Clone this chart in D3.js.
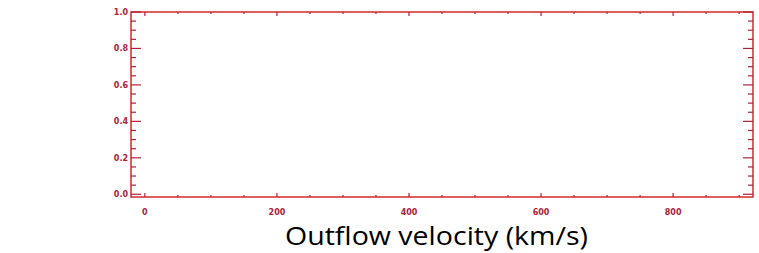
<!DOCTYPE html>
<html>
<head>
<meta charset="utf-8">
<script src="https://cdn.jsdelivr.net/npm/d3@7"></script>
<style>
  body { margin: 0; background: #fff; }
  svg { display: block; }
</style>
</head>
<body>
<svg id="chart" width="759" height="253"></svg>
<script>
// axis setup (empty plot)
const xDomain = [-21, 921]
const yDomain = [-0.015, 1.0]
const xMajorTicks = [0, 200, 400, 600, 800]
const xMinorTicks = [0, 50, 100, 150, 200, 250, 300, 350, 400, 450, 500, 550, 600, 650, 700, 750, 800, 850, 900]
const yMajorTicks = [0.0, 0.2, 0.4, 0.6, 0.8, 1.0]
const yMinorTicks = [0, 0.05, 0.1, 0.15, 0.2, 0.25, 0.3, 0.35, 0.4, 0.45, 0.5, 0.55, 0.6, 0.65, 0.7, 0.75, 0.8, 0.85, 0.9, 0.95, 1.0]
const xTitle = 'Outflow velocity (km/s)'

const svg = d3.select('#chart')
const plotLeft = 131
const plotRight = 753
const plotTop = 12
const plotBottom = 197

const x = d3.scaleLinear().domain(xDomain).range([plotLeft, plotRight])
const y = d3.scaleLinear().domain(yDomain).range([plotBottom, plotTop])

const axisColor = '#d42a2a'
const tickColor = '#b0203a'
const labelColor = '#b0203a'

const g = svg.append('g')

// frame
g.append('rect')
  .attr('x', plotLeft)
  .attr('y', plotTop)
  .attr('width', plotRight - plotLeft)
  .attr('height', plotBottom - plotTop)
  .attr('fill', 'none')
  .attr('stroke', axisColor)
  .attr('stroke-width', 1.5)

// y ticks, left and right, inward
const isMajorY = v => yMajorTicks.some(t => Math.abs(t - v) < 1e-6)
yMinorTicks.forEach(v => {
  const len = isMajorY(v) ? 10 : 5
  g.append('line')
    .attr('x1', plotLeft).attr('x2', plotLeft + len)
    .attr('y1', y(v)).attr('y2', y(v))
    .attr('stroke', tickColor).attr('stroke-width', 1.2)
  g.append('line')
    .attr('x1', plotRight).attr('x2', plotRight - len)
    .attr('y1', y(v)).attr('y2', y(v))
    .attr('stroke', tickColor).attr('stroke-width', 1.2)
})

// x ticks, bottom and top, inward (short)
const isMajorX = v => xMajorTicks.includes(v)
xMinorTicks.forEach(v => {
  const len = isMajorX(v) ? 4 : 2
  g.append('line')
    .attr('x1', x(v)).attr('x2', x(v))
    .attr('y1', plotBottom).attr('y2', plotBottom - len)
    .attr('stroke', tickColor).attr('stroke-width', 1.2)
  g.append('line')
    .attr('x1', x(v)).attr('x2', x(v))
    .attr('y1', plotTop).attr('y2', plotTop + len)
    .attr('stroke', tickColor).attr('stroke-width', 1.2)
})

// tick labels
g.selectAll('.ylab')
  .data(yMajorTicks)
  .enter()
  .append('text')
  .attr('class', 'ylab')
  .attr('x', plotLeft - 3)
  .attr('y', d => y(d) + 3)
  .attr('text-anchor', 'end')
  .attr('font-family', 'DejaVu Sans')
  .attr('font-size', 8)
  .attr('font-weight', 'bold')
  .attr('fill', labelColor)
  .text(d => d3.format('.1f')(d))

g.selectAll('.xlab')
  .data(xMajorTicks)
  .enter()
  .append('text')
  .attr('class', 'xlab')
  .attr('x', d => x(d))
  .attr('y', plotBottom + 18)
  .attr('text-anchor', 'middle')
  .attr('font-family', 'DejaVu Sans')
  .attr('font-size', 8)
  .attr('font-weight', 'bold')
  .attr('fill', labelColor)
  .text(d => d)

// axis title
svg.append('text')
  .attr('x', 285)
  .attr('y', 245)
  .attr('font-family', 'Open Sans')
  .attr('font-size', 26)
  .attr('textLength', 303)
  .attr('lengthAdjust', 'spacingAndGlyphs')
  .attr('fill', '#000')
  .text(xTitle)
</script>
</body>
</html>
